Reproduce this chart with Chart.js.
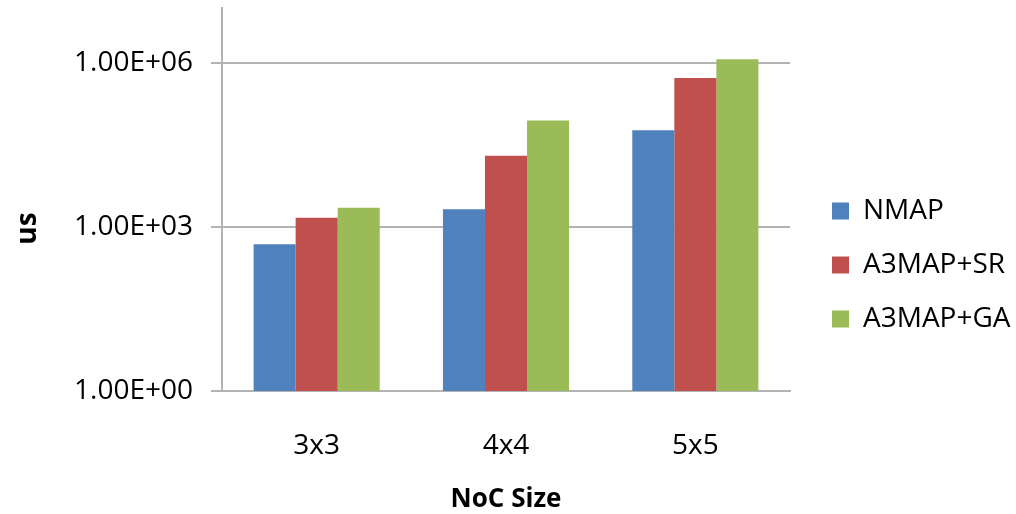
<!DOCTYPE html>
<html>
<head>
<meta charset="utf-8">
<script src="https://cdn.jsdelivr.net/npm/chart.js@4/dist/chart.umd.min.js"></script>
<style>
  html, body { margin: 0; padding: 0; background: #ffffff; }
  #wrap { width: 1016px; height: 514px; }
</style>
</head>
<body>
<div id="wrap"><canvas id="c" width="1016" height="514"></canvas></div>
<script>
const categories = ['3x3', '4x4', '5x5'];
const seriesNames = ['NMAP', 'A3MAP+SR', 'A3MAP+GA'];
const nmap = [480, 2100, 58000];
const a3mapSR = [1460, 19900, 527000];
const a3mapGA = [2230, 88000, 1160000];
const yTickValues = [1, 1000, 1000000];
const yTickLabels = ['1.00E+00', '1.00E+03', '1.00E+06'];
const yMin = 1;
const yMax = 10000000;
const xTitle = 'NoC Size';
const yTitle = 'us';

const colors = ['#4F81BD', '#C0504D', '#9BBB59'];
const gridColor = '#b3b3b3';
const FONT = '"Open Sans", "DejaVu Sans", sans-serif';

new Chart(document.getElementById('c'), {
  type: 'bar',
  data: {
    labels: categories,
    datasets: [nmap, a3mapSR, a3mapGA].map((d, i) => ({
      label: seriesNames[i],
      data: d,
      backgroundColor: colors[i],
      borderWidth: 0,
      categoryPercentage: 0.666,
      barPercentage: 1.0
    }))
  },
  options: {
    responsive: false,
    animation: false,
    layout: { padding: { top: 8, left: 0, right: 0, bottom: 0 } },
    plugins: {
      tooltip: { enabled: false },
      legend: {
        position: 'right',
        maxWidth: 210,
        title: { display: true, text: '', font: { size: 6, lineHeight: 1 }, padding: 1 },
        labels: {
          boxWidth: 17,
          boxHeight: 17,
          padding: 26,
          color: '#000000',
          font: { family: FONT, size: 28 }
        }
      }
    },
    scales: {
      x: {
        type: 'category',
        grid: { display: false },
        border: { display: true, color: gridColor, width: 2 },
        ticks: {
          color: '#000000',
          padding: 30,
          font: { family: FONT, size: 28 }
        },
        title: {
          display: true,
          text: xTitle,
          color: '#000000',
          font: { family: FONT, size: 26, weight: 'bold', lineHeight: 1 },
          padding: { top: 0, bottom: 1 }
        },
        afterFit: s => { s.height = 123; s.paddingLeft = 0; s.paddingRight = 0; }
      },
      y: {
        type: 'logarithmic',
        min: yMin,
        max: yMax,
        grid: { color: gridColor, lineWidth: 2, tickLength: 11, drawTicks: true },
        border: { display: true, color: gridColor, width: 2 },
        afterBuildTicks: s => { s.ticks = yTickValues.map(v => ({ value: v })); },
        ticks: {
          color: '#000000',
          padding: 18,
          font: { family: FONT, size: 28 },
          callback: (v) => {
            const i = yTickValues.indexOf(v);
            return i >= 0 ? yTickLabels[i] : '';
          }
        },
        title: {
          display: true,
          text: yTitle + '\u00a0'.repeat(8),
          color: '#000000',
          font: { family: FONT, size: 28, weight: 'bold', lineHeight: 1 },
          padding: { top: 14, bottom: 0 }
        },
        afterFit: s => { s.width = 222; s.paddingTop = 0; s.paddingBottom = 0; }
      },
      yR: {
        type: 'linear',
        position: 'right',
        display: true,
        grid: { display: false, drawTicks: false },
        border: { display: false },
        ticks: { display: false },
        afterFit: s => { s.width = 16; s.paddingTop = 0; s.paddingBottom = 0; }
      }
    }
  }
});
</script>
</body>
</html>
